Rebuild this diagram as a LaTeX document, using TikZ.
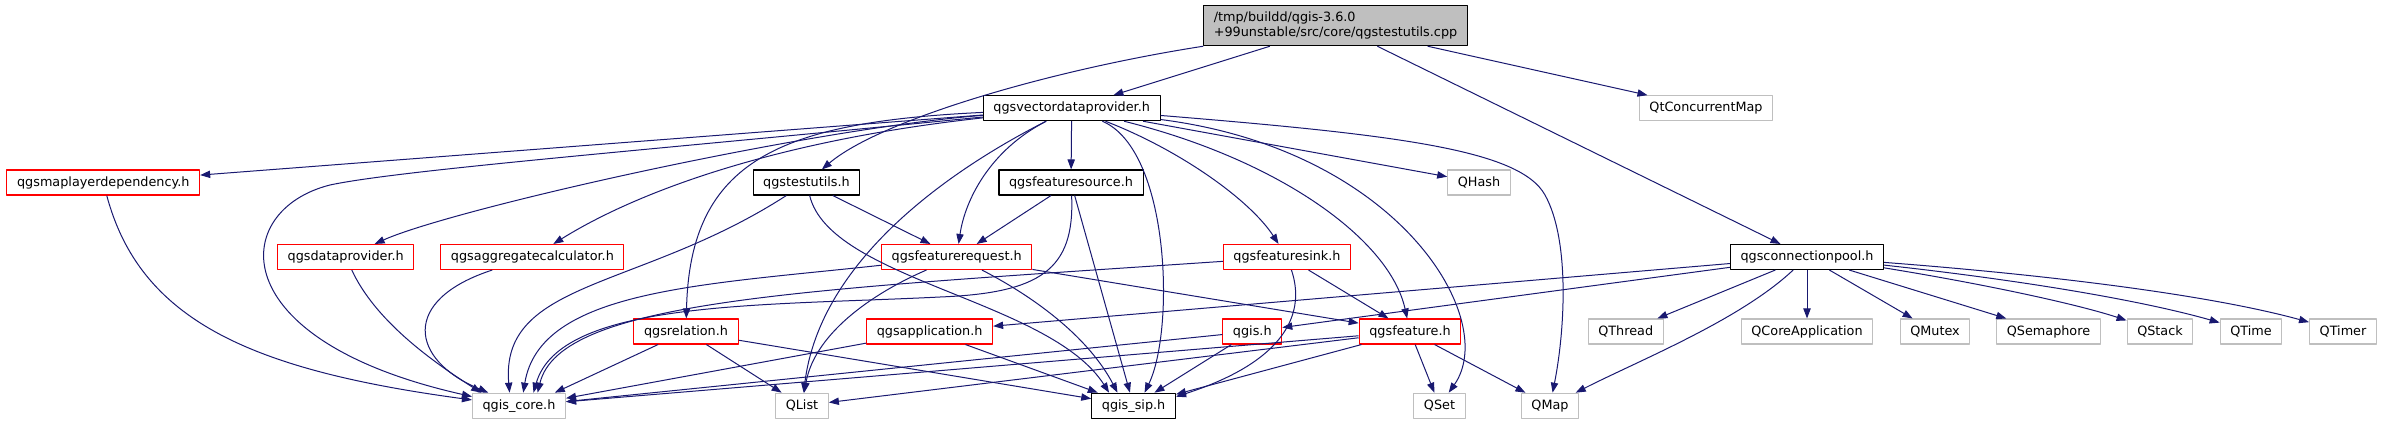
\documentclass[tikz,border=0pt]{standalone}
\usepackage{fontspec}
\setmainfont{DejaVu Sans}
\usetikzlibrary{arrows.meta}
\definecolor{midnight}{RGB}{25,25,112}
\definecolor{grey75}{RGB}{191,191,191}
\tikzset{
	hdrnode/.style={draw=black, line width=0.8pt, fill=white, inner xsep=7.6pt, inner ysep=0pt,
		minimum height=18.75pt, font=\fontsize{9.6}{11.5}\selectfont},
	rednode/.style={hdrnode, draw=red},
	sysnode/.style={hdrnode, draw=grey75},
	rootnode/.style={hdrnode, fill=grey75, align=left, minimum height=30pt},
	incl/.style={draw=midnight, line width=0.75pt, -{Triangle[length=7.5pt,width=5.5pt]}},
}
\begin{document}
\begin{tikzpicture}[x=0.75pt, y=-0.75pt, line join=round]
	\useasboundingbox (0,0) rectangle (2384,425);
	% nodes, row by row
	\node[rootnode] (root) at (1335.5,25.7) {/tmp/buildd/qgis-3.6.0\\+99unstable/src/core/qgstestutils.cpp};
	\node[hdrnode] (vdp) at (1071.7,108.2) {qgsvectordataprovider.h};
	\node[sysnode] (qcm) at (1706,108.2) {QtConcurrentMap};
	\node[rednode] (mld) at (103.3,182.5) {qgsmaplayerdependency.h};
	\node[hdrnode] (tu) at (806.5,182.5) {qgstestutils.h};
	\node[hdrnode] (fsrc) at (1071,182.5) {qgsfeaturesource.h};
	\node[sysnode] (qhash) at (1479,182.5) {QHash};
	\node[rednode] (dp) at (345.7,257) {qgsdataprovider.h};
	\node[rednode] (agg) at (532.4,257) {qgsaggregatecalculator.h};
	\node[rednode] (freq) at (956.7,257) {qgsfeaturerequest.h};
	\node[rednode] (fsink) at (1287,257) {qgsfeaturesink.h};
	\node[hdrnode] (cpool) at (1807,257) {qgsconnectionpool.h};
	\node[rednode] (rel) at (686,331.5) {qgsrelation.h};
	\node[rednode] (app) at (929.6,331.5) {qgsapplication.h};
	\node[rednode] (qgis) at (1252.3,331.5) {qgis.h};
	\node[rednode] (feat) at (1410,331.5) {qgsfeature.h};
	\foreach \n/\x/\t in {qthread/1625.7/QThread, qcoreapp/1807/QCoreApplication, qmutex/1935/QMutex,
		qsem/2048.5/QSemaphore, qstack/2160/QStack, qtime/2251/QTime, qtimer/2343/QTimer}
		\node[sysnode] (\n) at (\x,331.5) {\t};
	\node[sysnode] (core) at (519,405.7) {qgis\_core.h};
	\node[sysnode] (qlist) at (802,405.7) {QList};
	\node[hdrnode] (sip) at (1133.6,405.7) {qgis\_sip.h};
	\node[sysnode] (qset) at (1439.5,405.7) {QSet};
	\node[sysnode] (qmap) at (1550,405.7) {QMap};
	% root
	\draw[incl] (root) -- (vdp);
	\draw[incl] (root) .. controls (1050,70) and (880,120) .. (tu);
	\draw[incl] (root) -- (qcm);
	\draw[incl] (root) -- (cpool);
	% qgsvectordataprovider.h
	\draw[incl] (vdp) -- (mld);
	\draw[incl] (vdp) .. controls (650,150) and (400,170) .. (330,185) .. controls (230,210) and (220,340) .. (core.169);
	\draw[incl] (vdp) .. controls (800,130) and (450,210) .. (dp);
	\draw[incl] (vdp) .. controls (780,140) and (640,190) .. (agg);
	\draw[incl] (vdp) .. controls (780,122) and (690,160) .. (rel);
	\draw[incl] (vdp) .. controls (990,150) and (965,200) .. (freq);
	\draw[incl] (vdp) -- (fsrc);
	\draw[incl] (vdp) .. controls (950,170) and (820,260) .. (qlist);
	\draw[incl] (vdp) .. controls (1170,150) and (1175,330) .. (sip.50);
	\draw[incl] (vdp) .. controls (1180,150) and (1250,200) .. (fsink);
	\draw[incl] (vdp) .. controls (1280,160) and (1390,240) .. (feat);
	\draw[incl] (vdp) -- (qhash);
	\draw[incl] (vdp) .. controls (1400,150) and (1500,320) .. (qset);
	\draw[incl] (vdp) .. controls (1400,135) and (1520,150) .. (1545,195) .. controls (1570,240) and (1565,330) .. (qmap);
	% qgstestutils.h, qgsfeaturesource.h
	\draw[incl] (tu) .. controls (640,290) and (500,280) .. (core.126);
	\draw[incl] (tu) -- (freq);
	\draw[incl] (tu) .. controls (830,280) and (1050,300) .. (sip.152);
	\draw[incl] (fsrc) -- (freq);
	\draw[incl] (fsrc) -- (sip);
	\draw[incl] (fsrc) .. controls (1075,270) and (1040,293) .. (940,297) .. controls (760,306) and (560,300) .. (core.42);
	% third row
	\draw[incl] (mld) .. controls (140,320) and (250,370) .. (core.173);
	\draw[incl] (dp) .. controls (375,320) and (430,360) .. (core.161);
	\draw[incl] (agg) .. controls (400,300) and (410,360) .. (core.157);
	\draw[incl] (freq) .. controls (700,285) and (540,290) .. (core.72);
	\draw[incl] (freq) .. controls (880,290) and (815,330) .. (qlist);
	\draw[incl] (freq) .. controls (1040,300) and (1090,340) .. (sip.141);
	\draw[incl] (freq) -- (feat);
	\draw[incl] (fsink) .. controls (800,290) and (560,300) .. (core.35);
	\draw[incl] (fsink) -- (feat);
	\draw[incl] (fsink) .. controls (1305,310) and (1290,360) .. (sip.12);
	% fourth row
	\draw[incl] (rel) -- (core.20);
	\draw[incl] (rel) -- (qlist);
	\draw[incl] (rel) -- (sip);
	\draw[incl] (app) -- (core.9);
	\draw[incl] (app) -- (sip);
	\draw[incl] (qgis) -- (core.5);
	\draw[incl] (qgis) -- (sip);
	\foreach \q in {core, qlist, sip, qset, qmap}
		\draw[incl] (feat) -- (\q);
	% qgsconnectionpool.h
	\draw[incl] (cpool) -- (app);
	\draw[incl] (cpool) -- (qgis);
	\foreach \q in {qthread, qcoreapp, qmutex, qsem}
		\draw[incl] (cpool) -- (\q);
	\draw[incl] (cpool.-8) .. controls (1990,285) and (2080,305) .. (qstack);
	\draw[incl] (cpool.-6) .. controls (2020,280) and (2140,300) .. (qtime);
	\draw[incl] (cpool.-4) .. controls (2050,275) and (2210,295) .. (qtimer);
	\draw[incl] (cpool) .. controls (1740,320) and (1640,360) .. (qmap);
\end{tikzpicture}
\end{document}
